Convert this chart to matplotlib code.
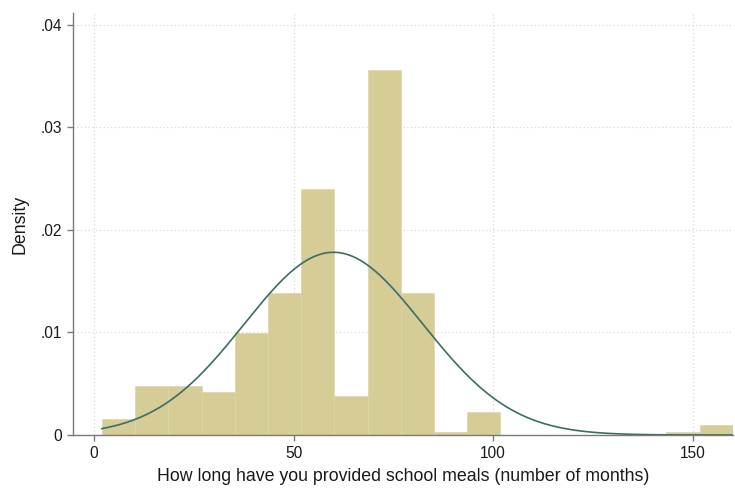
import numpy as np
import matplotlib
matplotlib.use("Agg")
import matplotlib.pyplot as plt

plt.rcParams['font.family'] = ['Liberation Sans', 'DejaVu Sans']

# Histogram bins (months) and densities
bin_start = 2.0
bin_end = 160.0
n_bins = 19
densities = [0.0016, 0.0048, 0.0048, 0.0042, 0.0099, 0.0138, 0.0240, 0.0038,
             0.0356, 0.0138, 0.0003, 0.0022, 0.0, 0.0, 0.0, 0.0, 0.0, 0.0003, 0.0010]

# Fitted normal
norm_mean = 60.0
norm_sd = 22.4

x_ticks = [0, 50, 100, 150]
y_ticks = [0, 0.01, 0.02, 0.03, 0.04]
y_tick_labels = ["0", ".01", ".02", ".03", ".04"]

xlabel = "How long have you provided school meals (number of months)"
ylabel = "Density"

edges = np.linspace(bin_start, bin_end, n_bins + 1)
widths = np.diff(edges)

fig = plt.figure(figsize=(7.35, 4.88), dpi=100)
ax = fig.add_axes([0.0993, 0.1086, 0.8977, 0.864])

ax.bar(edges[:-1], densities, width=widths, align='edge', color='#d6cc96',
       edgecolor='#ddd5a8', linewidth=0.5, zorder=2)

xs = np.linspace(bin_start, bin_end, 400)
pdf = np.exp(-0.5 * ((xs - norm_mean) / norm_sd) ** 2) / (norm_sd * np.sqrt(2 * np.pi))
ax.plot(xs, pdf, color='#3a6e66', linewidth=1.2, zorder=3)

ax.set_xlim(-5.25, 160)
ax.set_ylim(0, 0.0411)

ax.set_xticks(x_ticks)
ax.set_xticklabels([str(t) for t in x_ticks])
ax.set_yticks(y_ticks)
ax.set_yticklabels(y_tick_labels)

for t in y_ticks[1:]:
    ax.axhline(t, color='#d8d8d8', linestyle=(0, (1, 2)), linewidth=0.9, zorder=1)
for t in x_ticks:
    ax.axvline(t, color='#d8d8d8', linestyle=(0, (1, 2)), linewidth=0.9, zorder=1)

for s in ['top', 'right']:
    ax.spines[s].set_visible(False)
for s in ['left', 'bottom']:
    ax.spines[s].set_color('#7a7a7a')
    ax.spines[s].set_linewidth(1.0)
ax.spines['bottom'].set_zorder(4)

ax.tick_params(axis='both', direction='out', length=4.3, width=1.0, color='#7a7a7a',
               labelsize=11.2, labelcolor='#1a1a1a', pad=3.5)

ax.set_xlabel(xlabel, fontsize=12.8, color='#1a1a1a', labelpad=5)
ax.set_ylabel(ylabel, fontsize=12.8, color='#1a1a1a', labelpad=9)

fig.savefig("out.png", dpi=100)
